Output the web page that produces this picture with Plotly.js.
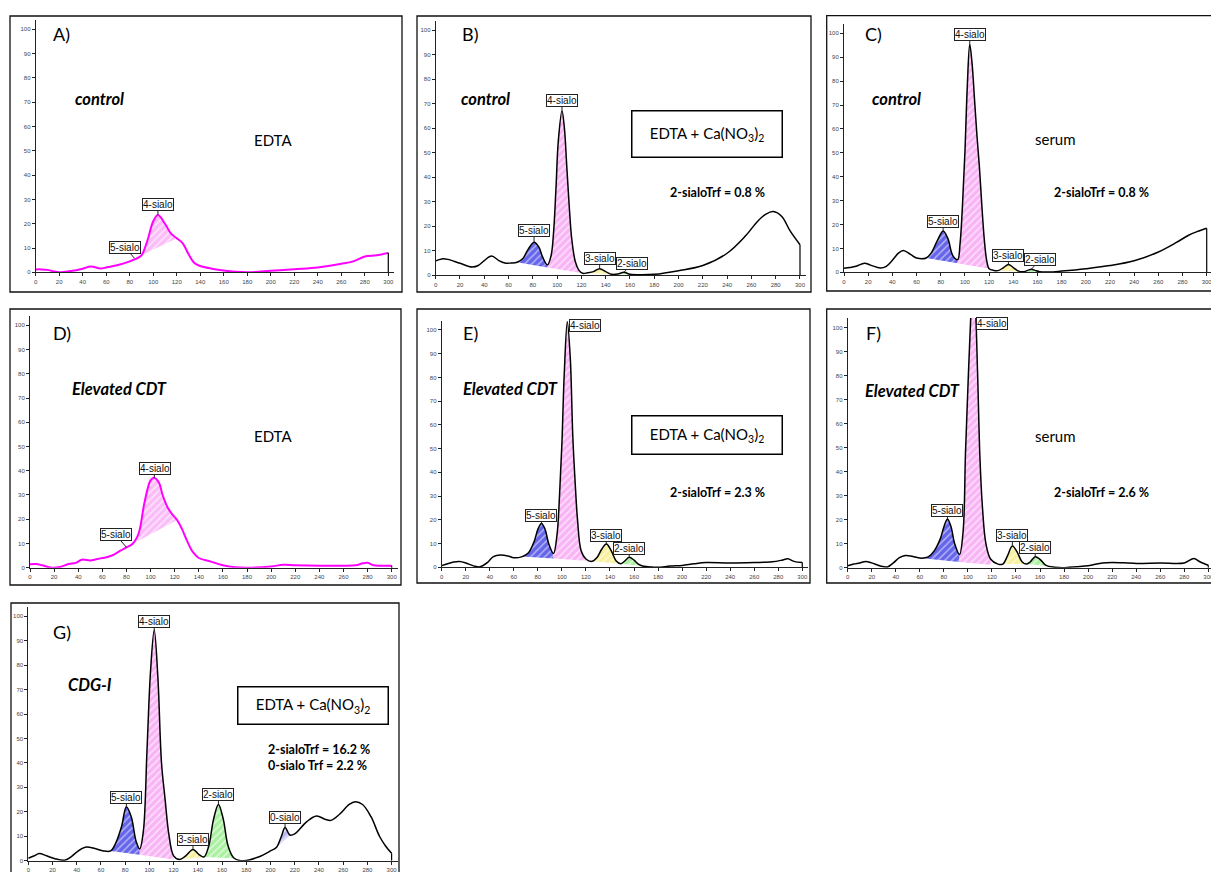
<!DOCTYPE html>
<html><head><meta charset="utf-8">
<script src="https://cdn.plot.ly/plotly-3.0.1.min.js"></script>
<style>html,body{margin:0;padding:0;background:#fff}</style>
</head><body><div id="chart" style="width:1211px;height:872px"></div>
<script>
// ---------------- DATA ----------------
// Panel A (EDTA, control)
const xA = [0,5,10,15,20,25,30,40,47,55,60,70,80,85,90,95,100,104,110,115,120,125,130,135,140,150,160,170,180,200,220,240,260,270,280,290,300];
const yA = [1.2,1.2,1.0,0.4,0,0.2,0.5,1.5,2.4,1.6,2,3,4.5,5.5,7,13,21,23.6,20,16,14,12,7.5,3.8,2.6,1.5,0.7,0.2,0,0.6,1.3,2,3.5,4.5,6.5,7,8];
const pkA_x0 = [90], pkA_x1 = [120], pkA_b0 = [7], pkA_b1 = [14], pkA_kind = ['p4m'];
const lbA_text = ['5-sialo','4-sialo'], lbA_x = [84,104], lbA_y = [5.8,23.6], lbA_tx = [76,104], lbA_ty = [10.3,27.7], lbA_arrow = [1,1];

// Panel B (EDTA + Ca(NO3)2, control)
const xB = [0,5,10,20,30,35,40,46,52,57,62,67,72,76,81,85,88,92,95,97,99,101,104,106,108,110,112,115,118,121,125,130,135,140,145,150,155,160,170,180,200,220,240,255,265,272,278,285,292,300];
const yB = [5.9,6.7,6.5,4.9,3.4,4,6,7.9,6,5,5,5.3,7,10.5,13.5,11.5,7.5,4.2,8,17,35,55,67.2,60,44,28,15,5.5,2,0.8,1,1.5,2.7,1.5,0.4,0.5,1.2,0.4,0.2,0.4,1.9,4,9,16,22,25,26,24,18,12.5];
const pkB_x0 = [67,92,125,150], pkB_x1 = [92,121,145,160], pkB_b0 = [5.3,3.2,1,0.5], pkB_b1 = [3.2,0.8,0.4,0.4], pkB_kind = ['p5','p4','p3','p2'];
const lbB_text = ['5-sialo','4-sialo','3-sialo','2-sialo'], lbB_x = [81,104,135,155], lbB_y = [13.5,67.2,2.7,1.2], lbB_tx = [81,104,135,162], lbB_ty = [18.2,71.5,6.8,5], lbB_arrow = [1,1,1,1];

// Panel C (serum, control)
const xC = [0,5,10,17,22,30,35,40,45,49,55,60,68,72,77,82,86,90,94,96,98,100,102,104,106,108,110,112,114,116,118,120,124,128,132,136,140,144,148,152,155,158,162,170,180,200,220,240,260,275,285,292,300];
const yC = [1.7,2,2.5,3.8,3,1.8,2.5,5,8,9.1,7.5,6,6,8,13,17.3,14,7,5.3,12,28,50,78,95.4,87,72,57,44,28,14,5,1.5,0.8,0.8,2,3.3,2,0.6,0.2,0.8,1.3,0.8,0.2,0.1,0.5,1.5,2.8,4.8,8.5,12.5,15.5,17,18.4];
const pkC_x0 = [68,94,128,148], pkC_x1 = [94,120,148,162], pkC_b0 = [6,3.75,0.8,0.2], pkC_b1 = [3.75,1.5,0.2,0.2], pkC_kind = ['p5','p4','p3','p2'];
const lbC_text = ['5-sialo','4-sialo','3-sialo','2-sialo'], lbC_x = [82,104,136,155], lbC_y = [17.3,95.4,3.3,1.3], lbC_tx = [82,104,136,162], lbC_ty = [21.2,99.3,7.1,5.2], lbC_arrow = [1,1,1,1];

// Panel D (EDTA, elevated CDT)
const xD = [0,5,10,18,25,32,38,43,50,55,60,65,70,75,80,85,90,95,100,103,107,110,114,118,122,126,130,135,140,150,160,170,180,200,210,220,240,260,270,276,280,285,290,300];
const yD = [1.4,1.5,1,0,0.3,1.5,2,3.3,3,3.5,4,4.5,5.5,7,8.4,9.8,14,27,36,37.1,35,30,25,22,19.7,16,11.4,6.5,4,2.5,1,0.2,0,0.5,1.2,1,0.8,0.8,1,1.8,2,1,0.8,0.8];
const pkD_x0 = [85], pkD_x1 = [122], pkD_b0 = [9.8], pkD_b1 = [19.7], pkD_kind = ['p4m'];
const lbD_text = ['5-sialo','4-sialo'], lbD_x = [80,103], lbD_y = [8.4,37.1], lbD_tx = [71.3,103.7], lbD_ty = [13.5,41], lbD_arrow = [1,1];

// Panel E (EDTA + Ca(NO3)2, elevated CDT)
const xE = [0,5,10,15,20,27,32,38,43,49,55,60,67,72,77,80,83,86,89,93,96,98,100,102,104.5,107,109,111,113,116,120,125,129,133,137,141,145,149,152,156,160,164,168,175,180,190,200,210,220,240,260,275,283,288,293,300];
const yE = [0.7,1.5,2.2,2.4,1.8,0.5,0.2,2,4.5,5.2,4.8,4,4.5,6,11,16,18.5,16,10,5.8,14,30,52,82,103.5,88,56,36,20,7,3.5,2.5,4,7.5,9.8,7,2.8,1.5,2.5,4.2,3,1.2,0.4,0.1,0,0.5,0.8,1.5,2,1.8,2,2.3,3,3.6,2.5,2];
const pkE_x0 = [67,93,125,149], pkE_x1 = [93,120,149,168], pkE_b0 = [4.5,3.7,2.5,1.5], pkE_b1 = [3.7,2.8,1.5,0.4], pkE_kind = ['p5','p4','p3','p2'];
const lbE_text = ['5-sialo','4-sialo','3-sialo','2-sialo'], lbE_x = [83,104.5,137,156], lbE_y = [18.5,103.5,9.8,4.2], lbE_tx = [82.6,119,136.7,156], lbE_ty = [22,101.8,13.6,8], lbE_arrow = [1,0,1,1];

// Panel F (serum, elevated CDT)
const xF = [0,5,10,15,20,27,33,38,43,48,55,60,67,72,77,80,83,86,89,93,96,98,100,102,104,106,108,110,112,115,119,125,129,133,137,141,145,149,152,156,160,165,172,180,190,200,212,220,240,260,280,288,293,300];
const yF = [0.8,1.5,2,2.6,2,0.7,0.3,2,4.2,5.1,4.6,4,4.5,7,12,17,20.3,17,10,5.5,15,48,75,100,118,110,82,46,26,10,3.5,1.5,1.5,5,9,6.5,2.5,1.5,2.5,4.6,3.5,1,0.2,0,0.4,0.8,2,2.2,1.8,2,2,3.8,2.5,1];
const pkF_x0 = [60,93,125,149], pkF_x1 = [93,119,149,165], pkF_b0 = [4,2.4,1.5,1.5], pkF_b1 = [2.4,1.2,1.5,0.8], pkF_kind = ['p5','p4','p3','p2'];
const lbF_text = ['5-sialo','4-sialo','3-sialo','2-sialo'], lbF_x = [83,104,137,156], lbF_y = [20.3,104,9,4.6], lbF_tx = [83,119.8,137,156], lbF_ty = [24,101.8,13.3,8.6], lbF_arrow = [1,0,1,1];

// Panel G (EDTA + Ca(NO3)2, CDG-I)
const xG = [0,5,9,15,22,30,35,40,47,55,62,68,72,77,81,85,89,92,95,98,101,104,107,110,113,116,120,125,130,136,141,145,149,153,157,161,165,170,178,190,200,205,209,212,216,220,230,238,245,250,257,265,270,276,283,290,295,300];
const yG = [1,2,2.9,2,0.8,0.2,1.5,3.5,5.5,5,4,4,7,14,22.1,18,8,4.8,12,45,78,94.4,75,40,25,11,2,0.5,2,4.6,2.5,1.5,6,17,23,17,6,1,0,1.5,4,5.5,10,13.6,10.5,11,16,18.3,17,16.5,19,23,24.1,23,18,10,6,3];
const pkG_x0 = [68,92,125,145,205], pkG_x1 = [92,120,145,170,216], pkG_b0 = [4,2.4,0.5,1.5,5.5], pkG_b1 = [2.4,0.5,1.5,1,10.5], pkG_kind = ['p5','p4','p3','p2','p0'];
const lbG_text = ['5-sialo','4-sialo','3-sialo','2-sialo','0-sialo'], lbG_x = [81,104,136,157,212], lbG_y = [22.1,94.4,4.6,23,13.6], lbG_tx = [81,104,136,157,212], lbG_ty = [26,98,8.5,26.9,17.5], lbG_arrow = [1,1,1,1,1];

// Panel texts
const panelLetters = ['A)','B)','C)','D)','E)','F)','G)'];
const sampleGroups = ['control','control','control','Elevated CDT','Elevated CDT','Elevated CDT','CDG-I'];
const matrixText = ['EDTA','EDTA + Ca(NO<sub>3</sub>)<sub>2</sub>','serum','EDTA','EDTA + Ca(NO<sub>3</sub>)<sub>2</sub>','serum','EDTA + Ca(NO<sub>3</sub>)<sub>2</sub>'];
const resultText = ['', '2-sialoTrf = 0.8 %', '2-sialoTrf = 0.8 %', '', '2-sialoTrf = 2.3 %', '2-sialoTrf = 2.6 %', '2-sialoTrf = 16.2 %<br>0-sialo Trf = 2.2 %'];
const xTicks = [0,20,40,60,80,100,120,140,160,180,200,220,240,260,280,300];
const yTicks = [0,10,20,30,40,50,60,70,80,90,100];

// ---------------- LAYOUT / STYLE ----------------
const W = 1211, H = 872;
// pixel geometry of each panel: [x0px, px per x unit, xmax, y0px, px per y unit, ymax]
const geom = [
  [35.7,1.1753,305,272.3,2.43,104],
  [435.7,1.2143,305,275.3,2.45,104],
  [844,1.209,303.5,272.3,2.39,104],
  [30,1.2057,305,567.7,2.424,104],
  [441.7,1.202,305,567.3,2.373,104],
  [847.7,1.202,302.2,567.7,2.4,104],
  [28.3,1.211,305,860.7,2.444,104]
];
const frames = [[10,16,402,292],[417,16,811,292],[826.7,15.7,1215,291],[10,309,401,585],[417,309,810,583],[826.7,309,1215,583],[11,603,399,880]];
const letterPos = [[61.7,34.3],[470,34.3],[873.3,34.3],[61.7,333.3],[470,333.3],[873.3,333.3],[61.7,631.7]];
const groupPos = [[99,99],[485,99],[896,99],[119,389.3],[510,389.3],[912.7,390.7],[90,685]];
const matrixPos = [[272.7,140],[707,134],[1055,139.3],[272.7,436],[707,435],[1055,436],[312.5,705.7]];
const matrixBox = [null,[150,46],null,null,[150,38],null,[150,37]];
const resultPos = [null,[717.3,192.7],[1101.7,192.7],null,[717.3,492.7],[1101.7,492.7],[319,757.3]];
const lineColors = ['#ff00ff','#000','#000','#ff00ff','#000','#000','#000'];
const fillStyles = {
  p5: {bg:'#6565ea', fg:'#ffffff', op:0.5},
  p4: {bg:'#f9b4f5', fg:'#ffffff', op:0.6},
  p4m:{bg:'#fbbdf8', fg:'#ffffff', op:0.6},
  p3: {bg:'#f8f09c', fg:'#ffffff', op:0.6},
  p2: {bg:'#a9f0a0', fg:'#ffffff', op:0.6},
  p0: {bg:'#b9b9f2', fg:'#ffffff', op:0.6}
};

const curves = [
  [xA,yA,pkA_x0,pkA_x1,pkA_b0,pkA_b1,pkA_kind,lbA_text,lbA_x,lbA_y,lbA_tx,lbA_ty,lbA_arrow],
  [xB,yB,pkB_x0,pkB_x1,pkB_b0,pkB_b1,pkB_kind,lbB_text,lbB_x,lbB_y,lbB_tx,lbB_ty,lbB_arrow],
  [xC,yC,pkC_x0,pkC_x1,pkC_b0,pkC_b1,pkC_kind,lbC_text,lbC_x,lbC_y,lbC_tx,lbC_ty,lbC_arrow],
  [xD,yD,pkD_x0,pkD_x1,pkD_b0,pkD_b1,pkD_kind,lbD_text,lbD_x,lbD_y,lbD_tx,lbD_ty,lbD_arrow],
  [xE,yE,pkE_x0,pkE_x1,pkE_b0,pkE_b1,pkE_kind,lbE_text,lbE_x,lbE_y,lbE_tx,lbE_ty,lbE_arrow],
  [xF,yF,pkF_x0,pkF_x1,pkF_b0,pkF_b1,pkF_kind,lbF_text,lbF_x,lbF_y,lbF_tx,lbF_ty,lbF_arrow],
  [xG,yG,pkG_x0,pkG_x1,pkG_b0,pkG_b1,pkG_kind,lbG_text,lbG_x,lbG_y,lbG_tx,lbG_ty,lbG_arrow]
];

const TXT = 'Lato, "Open Sans", sans-serif';
const ARIAL = '"Liberation Sans", Arial, sans-serif';
const traces = [];
const layout = {
  width: W, height: H, margin: {l:0,r:0,t:0,b:0, autoexpand:false},
  paper_bgcolor: '#fff', plot_bgcolor: 'rgba(0,0,0,0)',
  showlegend: false, annotations: [], shapes: []
};
const px = v => v / W, py = v => 1 - v / H;
const paperText = (x, y, text, font, extra) => Object.assign({xref:'paper', yref:'paper', x: px(x), y: py(y),
  xanchor:'center', yanchor:'middle', text: text, showarrow:false, font: font}, extra || {});

curves.forEach((c, i) => {
  const [xs, ys, x0s, x1s, b0s, b1s, kinds, lt, lx, ly, ltx, lty, la] = c;
  const sfx = i === 0 ? '' : String(i + 1);
  const xa = 'x' + sfx, ya = 'y' + sfx;
  const g = geom[i];
  const axisCommon = {
    showline: true, linecolor: '#222', linewidth: 1, ticks: 'outside', ticklen: 3, tickwidth: 1,
    tickcolor: '#222', showgrid: false, zeroline: false, fixedrange: true,
    ticklabeloverflow: 'allow',
    tickfont: {family: ARIAL, size: 6, color: '#444'}
  };
  layout['xaxis' + sfx] = Object.assign({}, axisCommon, {
    anchor: ya, range: [0, g[2]], tickmode: 'array', tickvals: xTicks,
    domain: [px(g[0]), Math.min(1, px(g[0] + g[1] * g[2]))]
  });
  layout['yaxis' + sfx] = Object.assign({}, axisCommon, {
    anchor: xa, range: [0, g[5]], tickmode: 'array', tickvals: yTicks,
    domain: [py(g[3]), py(g[3] - g[4] * g[5])]
  });
  // peak fills
  x0s.forEach((x0, j) => {
    const x1 = x1s[j];
    const st = fillStyles[kinds[j]];
    traces.push({type:'scatter', mode:'lines', xaxis: xa, yaxis: ya, x:[x0, x1], y:[b0s[j], b1s[j]],
      line:{width:0}, hoverinfo:'skip'});
    const sx = [], sy = [];
    xs.forEach((xv, k) => { if (xv >= x0 && xv <= x1) { sx.push(xv); sy.push(ys[k]); } });
    traces.push({type:'scatter', mode:'lines', xaxis: xa, yaxis: ya, x: sx, y: sy,
      line:{width:0, shape:'spline'}, fill:'tonexty', fillcolor: st.bg,
      fillpattern:{shape:'/', bgcolor: st.bg, fgcolor: st.fg, fgopacity: st.op, size: 5, solidity: 0.3},
      hoverinfo:'skip'});
  });
  // main curve
  traces.push({type:'scatter', mode:'lines', xaxis: xa, yaxis: ya, x: xs, y: ys,
    line:{color: lineColors[i], width: lineColors[i] === '#000' ? 1.5 : 2, shape:'spline', smoothing: 1},
    hoverinfo:'skip'});
  const n = xs.length - 1;
  traces.push({type:'scatter', mode:'lines', xaxis: xa, yaxis: ya, x:[xs[n], xs[n]], y:[ys[n], 0],
    line:{color: '#000', width: 1.2}, hoverinfo:'skip'});
  // peak labels
  lt.forEach((t, j) => {
    const a = {xref: xa, yref: ya, text: t, font:{family: ARIAL, size: 10, color:'#111'},
      bgcolor:'#fff', bordercolor:'#222', borderwidth:1, borderpad:0};
    if (la[j]) {
      Object.assign(a, {x: lx[j], y: ly[j], axref: xa, ayref: ya, ax: ltx[j], ay: lty[j],
        showarrow: true, arrowhead: 0, arrowwidth: 1, arrowcolor:'#222', standoff: 0});
    } else {
      Object.assign(a, {x: ltx[j], y: lty[j], xanchor:'center', yanchor:'middle', showarrow: false});
    }
    layout.annotations.push(a);
  });
  // panel texts
  layout.annotations.push(paperText(letterPos[i][0], letterPos[i][1], panelLetters[i], {family: TXT, size: 18, color:'#000'}));
  layout.annotations.push(paperText(groupPos[i][0], groupPos[i][1], '<b><i>' + sampleGroups[i] + '</i></b>', {family: TXT, size: 16.5, color:'#000'}));
  const extra = matrixBox[i] ? {width: matrixBox[i][0] - 3, height: matrixBox[i][1] - 3,
    bordercolor:'#000', borderwidth: 1.5, bgcolor:'#fff'} : {};
  layout.annotations.push(paperText(matrixPos[i][0], matrixPos[i][1], matrixText[i], {family: TXT, size: 15, color:'#000'}, extra));
  if (resultPos[i]) layout.annotations.push(paperText(resultPos[i][0], resultPos[i][1], '<b>' + resultText[i] + '</b>',
    {family: TXT, size: 12.5, color:'#000'}, {align:'left'}));
  const f = frames[i];
  layout.shapes.push({type:'rect', xref:'paper', yref:'paper', x0: px(f[0]), x1: px(f[2]), y0: py(f[3]), y1: py(f[1]),
    line:{color:'#111', width:1.3}, layer:'below'});
});

Plotly.newPlot('chart', traces, layout, {staticPlot: true, displayModeBar: false});
</script></body></html>
